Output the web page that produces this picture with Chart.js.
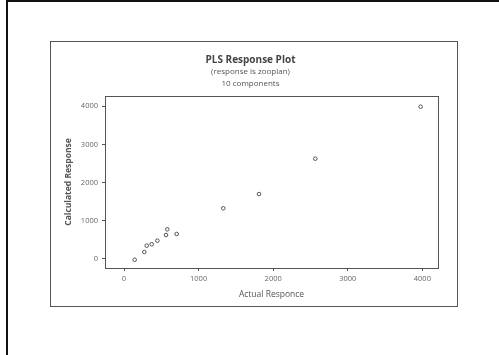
<!DOCTYPE html>
<html>
<head>
<meta charset="utf-8">
<script src="https://cdn.jsdelivr.net/npm/chart.js@4/dist/chart.umd.min.js"></script>
<style>
  html, body { margin: 0; padding: 0; background: #fff; }
  #wrap { width: 499px; height: 355px; position: relative; }
</style>
</head>
<body>
<div id="wrap"><canvas id="c" width="499" height="355"></canvas></div>
<script>
// Data
const actualResponse = [143, 272, 304, 371, 447, 563, 580, 706, 1331, 1810, 2565, 3977];
const calculatedResponse = [-20, 183, 348, 385, 480, 628, 777, 654, 1327, 1700, 2626, 3987];
const xTickValues = [0, 1000, 2000, 3000, 4000];
const yTickValues = [0, 1000, 2000, 3000, 4000];
const titleText = 'PLS Response Plot';
const subtitleLines = ['(response is zooplan)', '10 components'];
const xTitle = 'Actual Responce';
const yTitle = 'Calculated Response';

const points = actualResponse.map((x, i) => ({ x: x, y: calculatedResponse[i] }));

const frame = {
  id: 'frame',
  beforeDraw(chart) {
    const ctx = chart.ctx;
    ctx.save();
    ctx.fillStyle = '#fff';
    ctx.fillRect(0, 0, chart.width, chart.height);
    // page borders (scan edges)
    ctx.fillStyle = '#111';
    ctx.fillRect(6, 0, 2, chart.height);
    ctx.fillRect(6, 0, chart.width - 6, 2);
    // inner figure frame
    ctx.strokeStyle = '#555';
    ctx.lineWidth = 1;
    ctx.strokeRect(50.5, 41.5, 407, 265);
    ctx.restore();
  },
  afterDatasetsDraw(chart) {
    const a = chart.chartArea;
    const ctx = chart.ctx;
    ctx.save();
    ctx.strokeStyle = '#555';
    ctx.lineWidth = 1;
    ctx.strokeRect(Math.round(a.left) + 0.5, Math.round(a.top) + 0.5,
                   Math.round(a.right - a.left), Math.round(a.bottom - a.top));
    ctx.restore();
  }
};

new Chart(document.getElementById('c'), {
  type: 'scatter',
  data: {
    datasets: [{
      data: points,
      pointRadius: 1.8,
      pointHoverRadius: 1.8,
      borderWidth: 1,
      borderColor: '#555',
      backgroundColor: 'rgba(255,255,255,0)'
    }]
  },
  options: {
    responsive: false,
    animation: false,
    devicePixelRatio: 1,
    layout: { padding: { left: 63, right: 61, top: 0, bottom: 55 } },
    plugins: {
      legend: { display: false },
      tooltip: { enabled: false },
      title: {
        display: true,
        text: titleText,
        color: '#444',
        font: { family: 'Open Sans', size: 10, weight: 'bold', lineHeight: 1.2 },
        padding: { top: 54, bottom: 0 }
      },
      subtitle: {
        display: true,
        text: subtitleLines,
        color: '#555',
        font: { family: 'Open Sans', size: 8, lineHeight: 1.5 },
        padding: { top: 0, bottom: 6 }
      }
    },
    scales: {
      x: {
        type: 'linear',
        min: -255,
        max: 4210,
        afterBuildTicks(scale) { scale.ticks = xTickValues.map(v => ({ value: v })); },
        afterFit(scale) { scale.height = 32; },
        ticks: {
          color: '#666',
          font: { family: 'Open Sans', size: 7.5 },
          padding: 3,
          maxRotation: 0,
          callback: v => String(v)
        },
        grid: { drawOnChartArea: false, drawTicks: true, tickLength: 3, color: '#555' },
        border: { display: true, color: '#555', width: 1 },
        title: {
          display: true,
          text: xTitle,
          color: '#555',
          font: { family: 'Open Sans', size: 8.5 },
          padding: { top: 1, bottom: 0 }
        }
      },
      y: {
        type: 'linear',
        min: -236,
        max: 4267,
        afterBuildTicks(scale) { scale.ticks = yTickValues.map(v => ({ value: v })); },
        afterFit(scale) { scale.width = 42; },
        ticks: {
          color: '#666',
          font: { family: 'Open Sans', size: 7.5 },
          padding: 4,
          callback: v => String(v)
        },
        grid: { drawOnChartArea: false, drawTicks: true, tickLength: 3, color: '#555' },
        border: { display: true, color: '#555', width: 1 },
        title: {
          display: true,
          text: yTitle,
          color: '#555',
          font: { family: 'Open Sans', size: 8.5, weight: 'bold' },
          padding: { top: 0, bottom: 0 }
        }
      }
    }
  },
  plugins: [frame]
});
</script>
</body>
</html>
